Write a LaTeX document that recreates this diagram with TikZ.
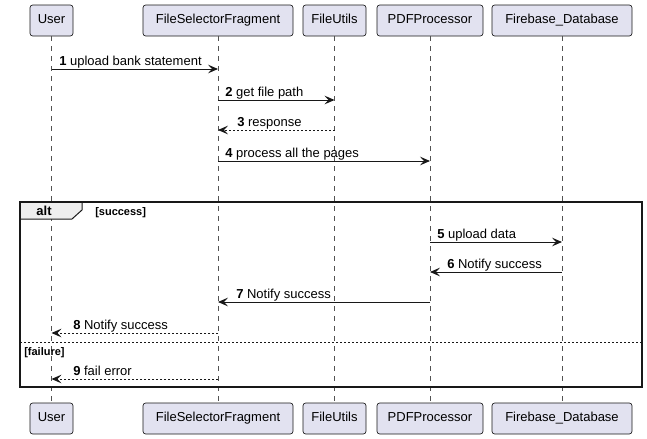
\documentclass[tikz,border=0pt]{standalone}
\usepackage{fontspec}
\setmainfont{Liberation Sans}
\usetikzlibrary{arrows.meta,calc}

\definecolor{partfill}{HTML}{E2E2F0}
\definecolor{partline}{HTML}{181818}
\definecolor{tabfill}{HTML}{EEEEEE}

\tikzset{
  part/.style={draw=partline, fill=partfill, rounded corners=2pt, line width=0.5pt,
    minimum height=23.25pt, inner sep=0pt, text height=7pt, text depth=2pt,
    font=\fontsize{9.75}{11}\selectfont},
  lifeline/.style={draw=partline!75, line width=0.5pt, dash pattern=on 3.75pt off 3.75pt},
  msg/.style={draw=partline, line width=0.75pt, -{Stealth[length=7.5pt,width=6.5pt,inset=3pt]}},
  reply/.style={msg, dash pattern=on 1.5pt off 1.5pt},
  msglabel/.style={anchor=base west, inner sep=0pt, font=\fontsize{9.75}{11}\selectfont},
  guard/.style={anchor=base west, inner sep=0pt, font=\fontsize{8.25}{10}\selectfont\bfseries},
}

\begin{document}
\begin{tikzpicture}[x=0.75pt,y=-0.75pt]
\useasboundingbox (0,0) rectangle (647,439);

% participants
\node[part, minimum width=32.25pt] (user)   at (51.5,20.5)  {User};
\node[part, minimum width=112.5pt] (fsf)    at (218,20.5)   {FileSelectorFragment};
\node[part, minimum width=47.25pt] (futils) at (334.5,20.5) {FileUtils};
\node[part, minimum width=79.5pt]  (pdfp)   at (430,20.5)   {PDFProcessor};
\node[part, minimum width=105pt]   (fbdb)   at (562,20.5)   {Firebase\_Database};

\node[part, minimum width=32.25pt] (userB)   at (51.5,418.5)  {User};
\node[part, minimum width=112.5pt] (fsfB)    at (218,418.5)   {FileSelectorFragment};
\node[part, minimum width=47.25pt] (futilsB) at (334.5,418.5) {FileUtils};
\node[part, minimum width=79.5pt]  (pdfpB)   at (430,418.5)   {PDFProcessor};
\node[part, minimum width=105pt]   (fbdbB)   at (562,418.5)   {Firebase\_Database};

% lifelines
\draw[lifeline] (user.south) -- (userB.north);
\draw[lifeline] (fsf.south) -- (fsfB.north);
\draw[lifeline] (futils.south) -- (futilsB.north);
\draw[lifeline] (pdfp.south) -- (pdfpB.north);
\draw[lifeline] (fbdb.south) -- (fbdbB.north);

% messages
\draw[msg] (user |- 0,69) -- (fsf |- 0,69);
\node[msglabel] (m1) at (59,65) {\textbf{1} upload bank statement};
\draw[msg] (fsf |- 0,100) -- (futils |- 0,100);
\node[msglabel] (m2) at (225,96) {\textbf{2} get file path};
\draw[reply] (futils |- 0,130) -- (fsf |- 0,130);
\node[msglabel] (m3) at (237,126) {\textbf{3} response};
\draw[msg] (fsf |- 0,161) -- (pdfp |- 0,161);
\node[msglabel] (m4) at (225,157) {\textbf{4} process all the pages};

% alt frame
\filldraw[fill=tabfill, draw=partline, line width=0.75pt] (20,202) -- (82,202) -- (82,210) -- (72,219) -- (20,219) -- cycle;
\draw[draw=partline, line width=1.2pt] (20,202) rectangle (642,387);
\node[anchor=base, inner sep=0pt, font=\fontsize{9.75}{11}\selectfont\bfseries] (alt) at (44,215) {alt};
\node[guard] (succ) at (95,215) {[success]};

\draw[msg] (pdfp |- 0,242) -- (fbdb |- 0,242);
\node[msglabel] (m5) at (437,238) {\textbf{5} upload data};
\draw[msg] (fbdb |- 0,272) -- (pdfp |- 0,272);
\node[msglabel] (m6) at (447,268) {\textbf{6} Notify success};
\draw[msg] (pdfp |- 0,302) -- (fsf |- 0,302);
\node[msglabel] (m7) at (236,298) {\textbf{7} Notify success};
\draw[reply] (fsf |- 0,333) -- (user |- 0,333);
\node[msglabel] (m8) at (73,329) {\textbf{8} Notify success};

\draw[draw=partline, line width=0.6pt, dash pattern=on 1.5pt off 1.5pt] (20,342) -- (642,342);
\node[guard] (fail) at (24,355) {[failure]};

\draw[reply] (fsf |- 0,379) -- (user |- 0,379);
\node[msglabel] (m9) at (73,375) {\textbf{9} fail error};

\end{tikzpicture}
\end{document}
